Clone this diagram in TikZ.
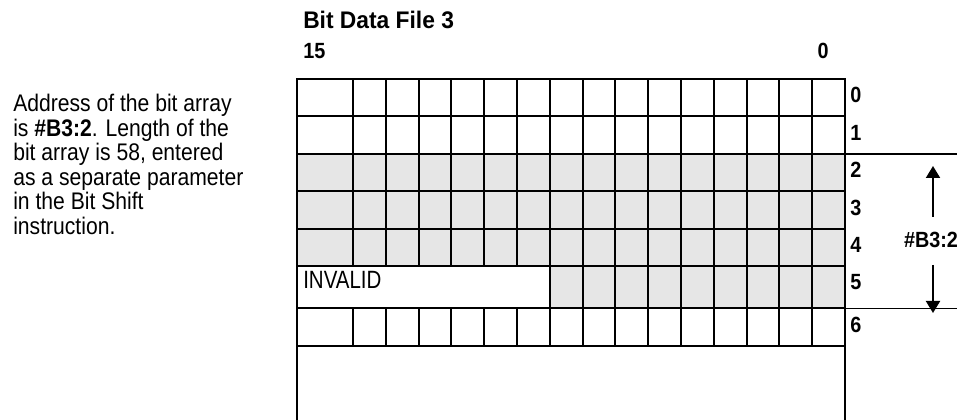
\documentclass[tikz,border=0pt]{standalone}
\usepackage{fontspec}
\setmainfont{Liberation Sans}
\newfontfamily\parafont[FakeStretch=0.88]{Liberation Sans}
\newfontfamily\condfont[FakeStretch=0.82]{Liberation Sans}
\newfontfamily\labfont[FakeStretch=0.9]{Liberation Sans}
\newfontfamily\titfont[FakeStretch=0.95]{Liberation Sans}
\usetikzlibrary{arrows.meta}
\definecolor{cellgray}{HTML}{E6E6E6}
\begin{document}
\begin{tikzpicture}[x=0.75pt,y=-0.75pt,
  para/.style={anchor=base west,inner sep=0pt,font=\parafont\fontsize{18pt}{20pt}\selectfont},
  lab/.style={anchor=base west,inner sep=0pt,font=\labfont\bfseries\fontsize{16.5pt}{19pt}\selectfont},
  titlefont/.style={anchor=base west,inner sep=0pt,font=\titfont\bfseries\fontsize{18pt}{20pt}\selectfont},
  gridline/.style={line width=1.5pt,line cap=rect},
  extline/.style={line width=1.2pt},
  arr/.style={-{Triangle[width=10.5pt,length=9pt]},line width=1.5pt}]
\useasboundingbox (0,0) rectangle (971,420);
% shaded cells
\fill[cellgray] (297,154) rectangle (845,266.5);
\fill[cellgray] (549.8,266.5) rectangle (845,308.5);
% horizontal grid lines
\foreach \yy in {79,116.5,154,191.5,229,266.5,308.5,346}
  \draw[gridline] (297,\yy) -- (845,\yy);
% outer verticals
\draw[gridline] (297,79) -- (297,422);
\draw[gridline] (845,79) -- (845,422);
% inner verticals
\foreach \k in {0,...,5}{
  \draw[gridline] ({353+32.8*\k},79) -- ({353+32.8*\k},266.5);
  \draw[gridline] ({353+32.8*\k},308.5) -- ({353+32.8*\k},346);
}
\foreach \k in {6,...,14}
  \draw[gridline] ({353+32.8*\k},79) -- ({353+32.8*\k},346);
% extension lines
\coordinate (e1a) at (845,154); \coordinate (e1b) at (957,154);
\coordinate (e2a) at (845,308.5); \coordinate (e2b) at (957,308.5);
\draw[extline] (e1a) -- (e1b);
\draw[extline] (e2a) -- (e2b);
% arrows
\coordinate (upS) at (933,217); \coordinate (upE) at (933,166);
\coordinate (dnS) at (933,265); \coordinate (dnE) at (933,313);
\draw[arr] (upS) -- (upE);
\draw[arr] (dnS) -- (dnE);
\node[lab,anchor=base] (addr) at (931,248) {\#B3:2};
% titles
\node[titlefont] (title) at (303,29) {Bit Data File 3};
\node[lab] (b15) at (303,59) {15};
\node[lab,anchor=base east] (b0) at (829,59) {0};
% row labels
\node[lab] (r0) at (850,103) {0};
\node[lab] (r1) at (850,140.5) {1};
\node[lab] (r2) at (850,178) {2};
\node[lab] (r3) at (850,215.5) {3};
\node[lab] (r4) at (850,253) {4};
\node[lab] (r5) at (850,290) {5};
\node[lab] (r6) at (850,332) {6};
% invalid
\node[anchor=base west,inner sep=0pt,font=\condfont\fontsize{18.75pt}{20pt}\selectfont] (inv) at (303,288.5) {INVALID};
% paragraph
\node[para] (p1) at (13,112) {Address of the bit array};
\node[para] (p2) at (13,136.5) {is \textbf{\#B3:2}. Length of the};
\node[para] (p3) at (13,161) {bit array is 58, entered};
\node[para] (p4) at (13,185.5) {as a separate parameter};
\node[para] (p5) at (13,210) {in the Bit Shift};
\node[para] (p6) at (13,234.5) {instruction.};
\end{tikzpicture}
\end{document}
